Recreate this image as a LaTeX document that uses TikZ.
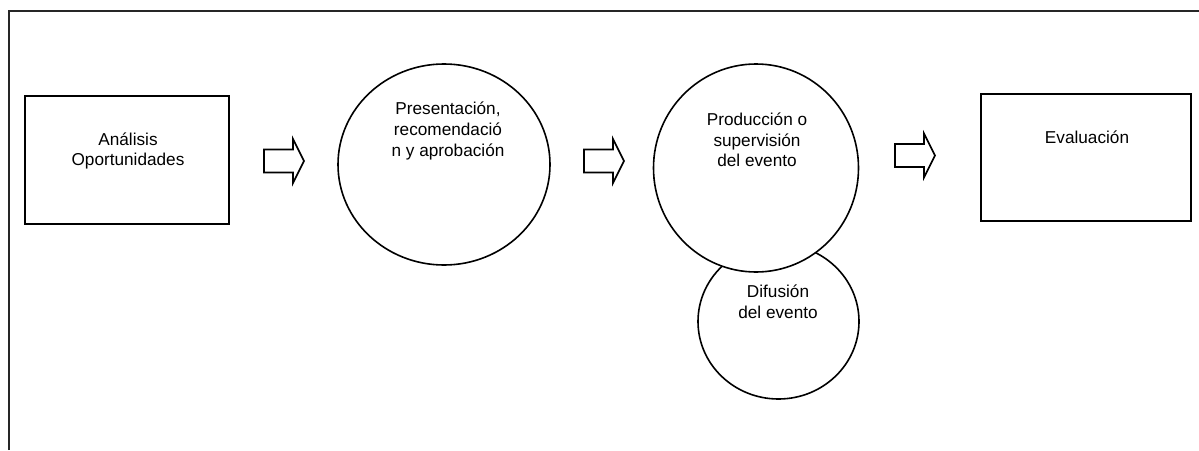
\documentclass[tikz,border=0pt]{standalone}
\usepackage{fontspec}
\setmainfont{Liberation Sans}
\usetikzlibrary{shapes.geometric}
\tikzset{
  frame line/.style={line width=2pt, draw=black!85},
  stage box/.style={draw, rectangle, line width=1.8pt, inner sep=0pt, fill=white},
  stage ring/.style={draw, ellipse, line width=1.6pt, inner sep=0pt, fill=white},
  stage text/.style={align=center, inner sep=0pt, font=\fontsize{17.2}{20.7}\selectfont},
  flow arrow/.pic={
    \draw[line width=1.7pt, line join=miter, fill=white]
      (0,-11.5) -- (29,-11.5) -- (29,-22) -- (40,0) -- (29,22) -- (29,11.5) -- (0,11.5) -- cycle;
  }
}
\begin{document}
\begin{tikzpicture}[x=1pt, y=-1pt]
  \useasboundingbox (0,0) rectangle (1199,450);

  % open outer frame (top and left edges)
  \coordinate (frame-bl) at (8.5,450);
  \coordinate (frame-tl) at (8.5,10.5);
  \coordinate (frame-tr) at (1199,10.5);
  \draw[frame line] (frame-bl) -- (frame-tl) -- (frame-tr);

  % stage 1
  \node[stage box, minimum width=204pt, minimum height=128pt] (analisis) at (127,160) {};
  \node[stage text] (analisis-t) at (128,151) {Análisis\\Oportunidades};

  \pic at (264,161) {flow arrow};

  % stage 2
  \node[stage ring, minimum width=212pt, minimum height=201pt] (presentacion) at (444,164.5) {};
  \node[stage text] (presentacion-t) at (448,131) {Presentación,\\recomendació\\n y aprobación};

  \pic at (584,161) {flow arrow};

  % stage 3 with its side activity behind it
  \node[stage ring, minimum width=161pt, minimum height=155pt] (difusion) at (778.5,321.5) {};
  \node[stage ring, minimum width=205pt, minimum height=208pt] (produccion) at (756,168) {};
  \node[stage text] (produccion-t) at (757,140) {Producción o\\supervisión\\del evento};
  \node[stage text] (difusion-t) at (778,301.5) {Difusión\\del evento};

  \pic at (895,155.5) {flow arrow};

  % stage 4
  \node[stage box, minimum width=210pt, minimum height=127pt] (evaluacion) at (1086,157.5) {};
  \node[stage text] (evaluacion-t) at (1087,137) {Evaluación};
\end{tikzpicture}
\end{document}
